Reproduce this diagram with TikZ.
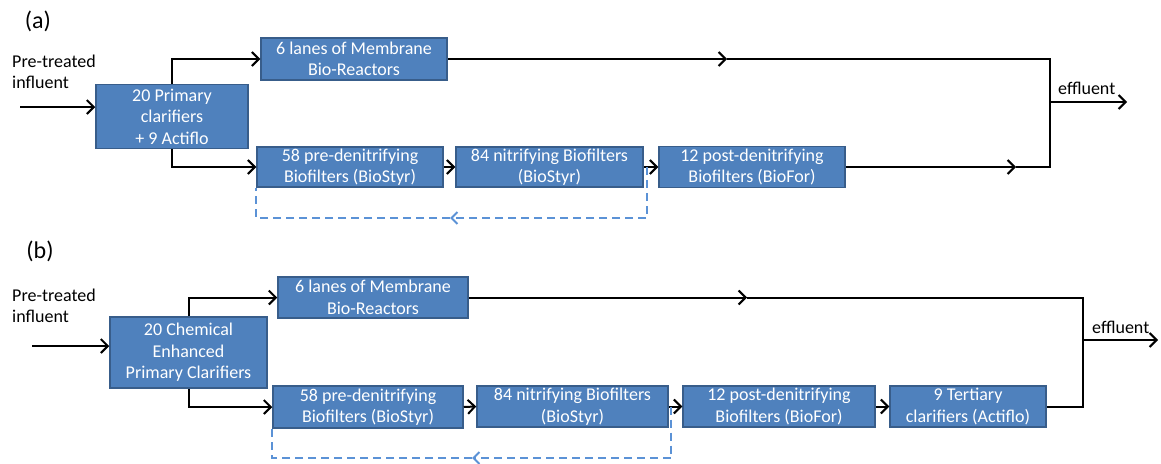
\documentclass[tikz,border=0pt]{standalone}
\usepackage{fontspec}
\setmainfont{Carlito}
\usetikzlibrary{arrows.meta}
\definecolor{boxfill}{RGB}{79,129,189}
\definecolor{boxedge}{RGB}{56,93,138}
\definecolor{dashblue}{RGB}{91,146,214}
\begin{document}
\begin{tikzpicture}[x=1pt,y=-1pt,
  proc/.style={draw=boxedge, line width=1.5pt, fill=boxfill, text=white, align=center, inner sep=0pt, font=\fontsize{18}{21.5}\selectfont},
  lbl/.style={text=black, inner sep=0pt, font=\fontsize{18}{21.5}\selectfont},
  flow/.style={line width=2pt, -{Straight Barb[length=7pt,width=14pt]}},
  plainline/.style={line width=2pt},
  back/.style={line width=2pt, draw=dashblue, dash pattern=on 8pt off 5pt},
  backtip/.style={-{Straight Barb[length=6pt,width=12pt]}}
]
\useasboundingbox (0,0) rectangle (1161,463);

% ---------------- (a) ----------------
\node[lbl, font=\fontsize{24}{28}\selectfont] (la) at (38,21) {(a)};
\node[lbl, align=left, anchor=west] (ina) at (12,72) {Pre-treated\\influent};
\node[lbl, anchor=base west] (effa) at (1058,94) {effluent};

\node[proc, minimum width=152pt, minimum height=64pt] (A1) at (172,116.5) {20 Primary\\clarifiers\\+ 9 Actiflo};
\node[proc, minimum width=186pt, minimum height=42pt] (MBRa) at (354,59) {6 lanes of Membrane\\Bio-Reactors};
\node[proc, minimum width=186pt, minimum height=40pt] (PDa) at (350,167) {58 pre-denitrifying\\Biofilters (BioStyr)};
\node[proc, minimum width=187pt, minimum height=40pt] (NIa) at (549.5,167) {84 nitrifying Biofilters\\(BioStyr)};
\node[proc, minimum width=186pt, minimum height=41pt] (POa) at (752,167) {12 post-denitrifying\\Biofilters (BioFor)};

\coordinate (inA) at (20,107);
\coordinate (ma1) at (727,59);
\coordinate (ja1) at (1050,59);
\coordinate (ja2) at (1050,167);
\coordinate (ma2) at (1016,167);
\coordinate (ea0) at (1050,102);
\coordinate (ea1) at (1127,102);
\coordinate (da0) at (647,167);
\coordinate (da1) at (647,218);
\coordinate (dam) at (450,218);

\draw[flow] (inA) -- (inA -| A1.west);
\draw[flow] (A1.north) |- (MBRa.west);
\draw[flow] (A1.south) |- (PDa.west);
\draw[flow] (PDa.east) -- (NIa.west);
\draw[flow] (NIa.east) -- (POa.west);
\draw[flow] (MBRa.east) -- (ma1);
\draw[plainline] (ma1) -- (ja1) -- (ja2) -- (ma2);
\draw[flow] (POa.east) -- (ma2);
\draw[flow] (ea0) -- (ea1);
\draw[back, backtip, dashblue] (da0) -- (da1) -- (dam);
\draw[back] (dam) -| (PDa.south west);

% ---------------- (b) ----------------
\node[lbl, font=\fontsize{24}{28}\selectfont] (lb) at (40,251) {(b)};
\node[lbl, align=left, anchor=west] (inb) at (12,306) {Pre-treated\\influent};
\node[lbl, anchor=base west] (effb) at (1092,333) {effluent};

\node[proc, minimum width=157pt, minimum height=71pt] (B1) at (188.5,352.5) {20 Chemical\\Enhanced\\Primary Clarifiers};
\node[proc, minimum width=190pt, minimum height=41pt] (MBRb) at (373,297.5) {6 lanes of Membrane\\Bio-Reactors};
\node[proc, minimum width=190pt, minimum height=42pt] (PDb) at (368,407) {58 pre-denitrifying\\Biofilters (BioStyr)};
\node[proc, minimum width=191pt, minimum height=41pt] (NIb) at (572.5,406.5) {84 nitrifying Biofilters\\(BioStyr)};
\node[proc, minimum width=192pt, minimum height=41pt] (POb) at (779,406.5) {12 post-denitrifying\\Biofilters (BioFor)};
\node[proc, minimum width=156pt, minimum height=41pt] (TEb) at (968,406.5) {9 Tertiary\\clarifiers (Actiflo)};

\coordinate (inB) at (32,346);
\coordinate (mb1) at (747,297.5);
\coordinate (jb1) at (1083,297.5);
\coordinate (jb2) at (1083,406.5);
\coordinate (eb0) at (1083,340);
\coordinate (eb1) at (1158,340);
\coordinate (db0) at (671,406.5);
\coordinate (db1) at (671,458);
\coordinate (dbm) at (472,458);

\draw[flow] (inB) -- (inB -| B1.west);
\draw[flow] (B1.north) |- (MBRb.west);
\draw[flow] (B1.south) |- (PDb.west);
\draw[flow] (PDb.east) -- (NIb.west);
\draw[flow] (NIb.east) -- (POb.west);
\draw[flow] (POb.east) -- (TEb.west);
\draw[flow] (MBRb.east) -- (mb1);
\draw[plainline] (mb1) -- (jb1) -- (jb2) -- (TEb.east);
\draw[flow] (eb0) -- (eb1);
\draw[back, backtip, dashblue] (db0) -- (db1) -- (dbm);
\draw[back] (dbm) -| (PDb.south west);
\end{tikzpicture}
\end{document}
